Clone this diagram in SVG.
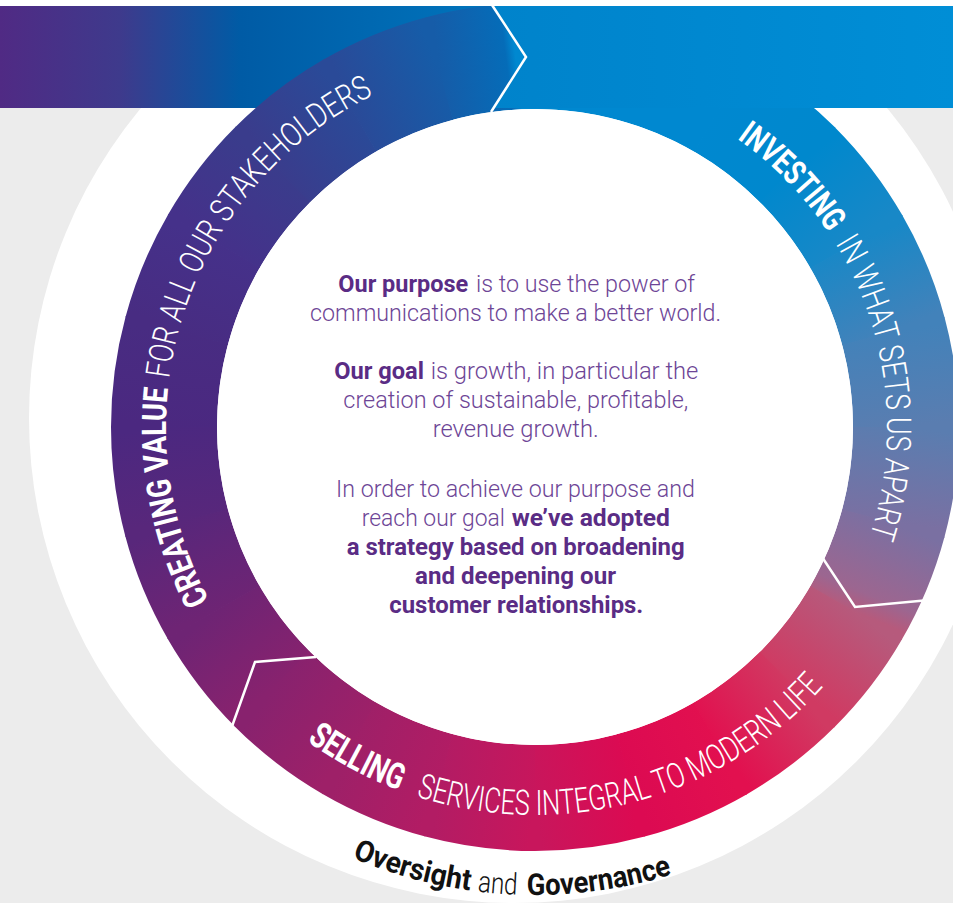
<svg xmlns="http://www.w3.org/2000/svg" width="953" height="903" viewBox="0 0 953 903">
<defs>
<style>
.seg{fill:none;stroke-width:106;stroke-dasharray:98 2400}
.rt{font-family:Roboto,"Open Sans","Liberation Sans",sans-serif;fill:#fff;font-weight:300}
.ctr{font-family:Roboto,"Open Sans","Liberation Sans",sans-serif;font-size:24.5px;fill:#6d4596;font-weight:300}
.cb{font-weight:700;fill:#5a2c85}
.gov{font-family:Roboto,"Open Sans","Liberation Sans",sans-serif;font-size:30px;fill:#111;font-weight:300}
.chev{fill:none;stroke:#fff;stroke-width:2.5;stroke-linejoin:miter}
.bd{font-weight:700}
</style>
<linearGradient id="bandGrad" gradientUnits="userSpaceOnUse" x1="0" y1="0" x2="953" y2="0">
<stop offset="0" stop-color="#502a84"/>
<stop offset="0.126" stop-color="#3e3a8c"/>
<stop offset="0.252" stop-color="#005ba5"/>
<stop offset="0.514" stop-color="#0074bc"/>
<stop offset="1" stop-color="#008ed6"/>
</linearGradient>
<linearGradient id="bandRight" gradientUnits="userSpaceOnUse" x1="492" y1="0" x2="953" y2="0">
<stop offset="0" stop-color="#0083cb"/>
<stop offset="1" stop-color="#008ed6"/>
</linearGradient>
<linearGradient id="s0" gradientUnits="userSpaceOnUse" x1="371" y1="0" x2="358.36" y2="96.02"><stop offset="0" stop-color="#5a7db0"/><stop offset="1" stop-color="#7a70a2"/></linearGradient>
<linearGradient id="s15" gradientUnits="userSpaceOnUse" x1="371" y1="0" x2="358.36" y2="96.02"><stop offset="0" stop-color="#7a70a2"/><stop offset="0.78" stop-color="#9c6690"/><stop offset="1" stop-color="#b65a7c"/></linearGradient>
<linearGradient id="s30" gradientUnits="userSpaceOnUse" x1="371" y1="0" x2="358.36" y2="96.02"><stop offset="0" stop-color="#b65a7c"/><stop offset="1" stop-color="#d03a62"/></linearGradient>
<linearGradient id="s45" gradientUnits="userSpaceOnUse" x1="371" y1="0" x2="358.36" y2="96.02"><stop offset="0" stop-color="#d03a62"/><stop offset="1" stop-color="#e2104f"/></linearGradient>
<linearGradient id="s60" gradientUnits="userSpaceOnUse" x1="371" y1="0" x2="358.36" y2="96.02"><stop offset="0" stop-color="#e2104f"/><stop offset="1" stop-color="#dc0a52"/></linearGradient>
<linearGradient id="s75" gradientUnits="userSpaceOnUse" x1="371" y1="0" x2="358.36" y2="96.02"><stop offset="0" stop-color="#dc0a52"/><stop offset="1" stop-color="#c8165c"/></linearGradient>
<linearGradient id="s90" gradientUnits="userSpaceOnUse" x1="371" y1="0" x2="358.36" y2="96.02"><stop offset="0" stop-color="#c8165c"/><stop offset="1" stop-color="#b21c64"/></linearGradient>
<linearGradient id="s105" gradientUnits="userSpaceOnUse" x1="371" y1="0" x2="358.36" y2="96.02"><stop offset="0" stop-color="#b21c64"/><stop offset="1" stop-color="#9e2068"/></linearGradient>
<linearGradient id="s120" gradientUnits="userSpaceOnUse" x1="371" y1="0" x2="358.36" y2="96.02"><stop offset="0" stop-color="#9e2068"/><stop offset="1" stop-color="#88226e"/></linearGradient>
<linearGradient id="s135" gradientUnits="userSpaceOnUse" x1="371" y1="0" x2="358.36" y2="96.02"><stop offset="0" stop-color="#88226e"/><stop offset="1" stop-color="#6e2474"/></linearGradient>
<linearGradient id="s150" gradientUnits="userSpaceOnUse" x1="371" y1="0" x2="358.36" y2="96.02"><stop offset="0" stop-color="#6e2474"/><stop offset="1" stop-color="#58277b"/></linearGradient>
<linearGradient id="s165" gradientUnits="userSpaceOnUse" x1="371" y1="0" x2="358.36" y2="96.02"><stop offset="0" stop-color="#58277b"/><stop offset="1" stop-color="#4b2880"/></linearGradient>
<linearGradient id="s180" gradientUnits="userSpaceOnUse" x1="371" y1="0" x2="358.36" y2="96.02"><stop offset="0" stop-color="#4b2880"/><stop offset="1" stop-color="#482c82"/></linearGradient>
<linearGradient id="s195" gradientUnits="userSpaceOnUse" x1="371" y1="0" x2="358.36" y2="96.02"><stop offset="0" stop-color="#482c82"/><stop offset="1" stop-color="#45318a"/></linearGradient>
<linearGradient id="s210" gradientUnits="userSpaceOnUse" x1="371" y1="0" x2="358.36" y2="96.02"><stop offset="0" stop-color="#45318a"/><stop offset="1" stop-color="#3a3c8c"/></linearGradient>
<linearGradient id="s225" gradientUnits="userSpaceOnUse" x1="371" y1="0" x2="358.36" y2="96.02"><stop offset="0" stop-color="#3a3c8c"/><stop offset="1" stop-color="#2a4a98"/></linearGradient>
<linearGradient id="s240" gradientUnits="userSpaceOnUse" x1="371" y1="0" x2="358.36" y2="96.02"><stop offset="0" stop-color="#2a4a98"/><stop offset="1" stop-color="#165ca8"/></linearGradient>
<linearGradient id="s255" gradientUnits="userSpaceOnUse" x1="371" y1="0" x2="358.36" y2="96.02"><stop offset="0" stop-color="#165ca8"/><stop offset="0.7" stop-color="#056cb8"/><stop offset="0.8" stop-color="#0088d0"/></linearGradient>
<linearGradient id="s300" gradientUnits="userSpaceOnUse" x1="371" y1="0" x2="358.36" y2="96.02"><stop offset="0" stop-color="#0088d0"/><stop offset="1" stop-color="#0088cd"/></linearGradient>
<linearGradient id="s315" gradientUnits="userSpaceOnUse" x1="371" y1="0" x2="358.36" y2="96.02"><stop offset="0" stop-color="#0088cd"/><stop offset="1" stop-color="#1888c7"/></linearGradient>
<linearGradient id="s330" gradientUnits="userSpaceOnUse" x1="371" y1="0" x2="358.36" y2="96.02"><stop offset="0" stop-color="#1888c7"/><stop offset="1" stop-color="#4282ba"/></linearGradient>
<linearGradient id="s345" gradientUnits="userSpaceOnUse" x1="371" y1="0" x2="358.36" y2="96.02"><stop offset="0" stop-color="#4282ba"/><stop offset="1" stop-color="#5a7db0"/></linearGradient>
<clipPath id="clipTop"><rect x="0" y="6" width="953" height="897"/></clipPath>
<path id="arcLeft" d="M209.2,600.2 A369,369 0 0 1 373.2,95.3"/>
<path id="arcRight" d="M736.9,138.7 A352,352 0 0 1 869.8,535.8"/>
<path id="arcBottom" d="M306.9,740.9 A388,388 0 0 0 823.3,686.6"/>
<path id="arcGov" d="M352.1,857.8 A468,468 0 0 0 671.8,874.5"/>
</defs>

<g id="background">
<rect x="0" y="0" width="953" height="903" fill="#ececec"/>
<rect x="0" y="0" width="953" height="6" fill="#fff"/>
<circle cx="514" cy="418" r="485" fill="#fff"/>
<rect x="0" y="6" width="953" height="102" fill="url(#bandGrad)"/>
</g>

<g clip-path="url(#clipTop)">
<g transform="translate(535 427)">
<g id="seg-creating">
<circle class="seg" r="371" transform="rotate(135)" stroke="url(#s135)"/>
<circle class="seg" r="371" transform="rotate(150)" stroke="url(#s150)"/>
<circle class="seg" r="371" transform="rotate(165)" stroke="url(#s165)"/>
<circle class="seg" r="371" transform="rotate(180)" stroke="url(#s180)"/>
<circle class="seg" r="371" transform="rotate(195)" stroke="url(#s195)"/>
<circle class="seg" r="371" transform="rotate(210)" stroke="url(#s210)"/>
<circle class="seg" r="371" transform="rotate(225)" stroke="url(#s225)"/>
<circle class="seg" r="371" transform="rotate(240)" stroke="url(#s240)"/>
<circle class="seg" r="371" transform="rotate(255)" stroke="url(#s255)"/>
</g>
<g id="seg-investing">
<circle class="seg" r="371" transform="rotate(270)" stroke="#0088d0"/>
<circle class="seg" r="371" transform="rotate(285)" stroke="#0088d0"/>
<circle class="seg" r="371" transform="rotate(300)" stroke="url(#s300)"/>
<circle class="seg" r="371" transform="rotate(315)" stroke="url(#s315)"/>
<circle class="seg" r="371" transform="rotate(330)" stroke="url(#s330)"/>
<circle class="seg" r="371" transform="rotate(345)" stroke="url(#s345)"/>
<circle class="seg" r="371" transform="rotate(0)" stroke="url(#s0)"/>
<circle class="seg" r="371" transform="rotate(15)" stroke="url(#s15)"/>
</g>
<g id="seg-selling">
<circle class="seg" r="371" transform="rotate(30)" stroke="url(#s30)"/>
<circle class="seg" r="371" transform="rotate(45)" stroke="url(#s45)"/>
<circle class="seg" r="371" transform="rotate(60)" stroke="url(#s60)"/>
<circle class="seg" r="371" transform="rotate(75)" stroke="url(#s75)"/>
<circle class="seg" r="371" transform="rotate(90)" stroke="url(#s90)"/>
<circle class="seg" r="371" transform="rotate(105)" stroke="url(#s105)"/>
<circle class="seg" r="371" transform="rotate(120)" stroke="url(#s120)"/>
</g>
</g>
</g>

<g id="band-right">
<polygon points="492,6 953,6 953,108 492,108 526,57" fill="url(#bandRight)"/>
</g>

<g id="inner-disc">
<circle cx="535" cy="427" r="318" fill="#fff"/>
</g>

<g id="connectors">
<polyline class="chev" points="492,5 526,57 491,112"/>
<polyline class="chev" points="823,558.5 855,607 924,600.5"/>
<polyline class="chev" points="232.5,725 255,662 316,657"/>
</g>

<g id="label-creating">
<text class="rt bd" font-size="34"><textPath href="#arcLeft" textLength="219" lengthAdjust="spacingAndGlyphs">CREATING VALUE</textPath></text>
<text class="rt" font-size="34"><textPath href="#arcLeft" startOffset="228.6" textLength="160.4" lengthAdjust="spacingAndGlyphs">FOR ALL OUR</textPath></text>
<text class="rt" font-size="34"><textPath href="#arcLeft" startOffset="395.4" textLength="197.1" lengthAdjust="spacingAndGlyphs">STAKEHOLDERS</textPath></text>
</g>
<g id="label-investing">
<text class="rt bd" font-size="34"><textPath href="#arcRight" textLength="132.1" lengthAdjust="spacingAndGlyphs">INVESTING</textPath></text>
<text class="rt" font-size="34"><textPath href="#arcRight" startOffset="144.4" textLength="304.1" lengthAdjust="spacingAndGlyphs">IN WHAT SETS US APART</textPath></text>
</g>
<g id="label-selling">
<text class="rt bd" font-size="36"><textPath href="#arcBottom" textLength="105" lengthAdjust="spacingAndGlyphs">SELLING</textPath></text>
<text class="rt" font-size="35"><textPath href="#arcBottom" startOffset="123" textLength="445.7" lengthAdjust="spacingAndGlyphs">SERVICES INTEGRAL TO MODERN LIFE</textPath></text>
</g>
<g id="label-governance">
<text class="gov bd"><textPath href="#arcGov" textLength="122.5" lengthAdjust="spacingAndGlyphs">Oversight</textPath></text>
<text class="gov"><textPath href="#arcGov" startOffset="129.9" textLength="40" lengthAdjust="spacingAndGlyphs">and</textPath></text>
<text class="gov bd"><textPath href="#arcGov" startOffset="179.7" textLength="147" lengthAdjust="spacingAndGlyphs">Governance</textPath></text>
</g>

<g id="center-text">
<text class="ctr cb" x="338.3" y="291.7" textLength="130" lengthAdjust="spacingAndGlyphs">Our purpose</text>
<text class="ctr" x="476" y="291.7" textLength="219" lengthAdjust="spacingAndGlyphs">is to use the power of</text>
<text class="ctr" x="310" y="320.7" textLength="411" lengthAdjust="spacingAndGlyphs">communications to make a better world.</text>
<text class="ctr cb" x="334.3" y="379.3" textLength="89.7" lengthAdjust="spacingAndGlyphs">Our goal</text>
<text class="ctr" x="430.7" y="379.3" textLength="267.6" lengthAdjust="spacingAndGlyphs">is growth, in particular the</text>
<text class="ctr" x="343.3" y="408.3" textLength="345" lengthAdjust="spacingAndGlyphs">creation of sustainable, profitable,</text>
<text class="ctr" x="432.7" y="437.3" textLength="166" lengthAdjust="spacingAndGlyphs">revenue growth.</text>
<text class="ctr" x="336" y="496.7" textLength="359" lengthAdjust="spacingAndGlyphs">In order to achieve our purpose and</text>
<text class="ctr" x="361.7" y="525.7" textLength="143.3" lengthAdjust="spacingAndGlyphs">reach our goal</text>
<text class="ctr cb" x="511.7" y="525.7" textLength="158.3" lengthAdjust="spacingAndGlyphs">we’ve adopted</text>
<text class="ctr cb" x="346.7" y="554.7" textLength="338" lengthAdjust="spacingAndGlyphs">a strategy based on broadening</text>
<text class="ctr cb" x="415" y="583.7" textLength="201" lengthAdjust="spacingAndGlyphs">and deepening our</text>
<text class="ctr cb" x="389.3" y="612.7" textLength="254" lengthAdjust="spacingAndGlyphs">customer relationships.</text>
</g>
</svg>
